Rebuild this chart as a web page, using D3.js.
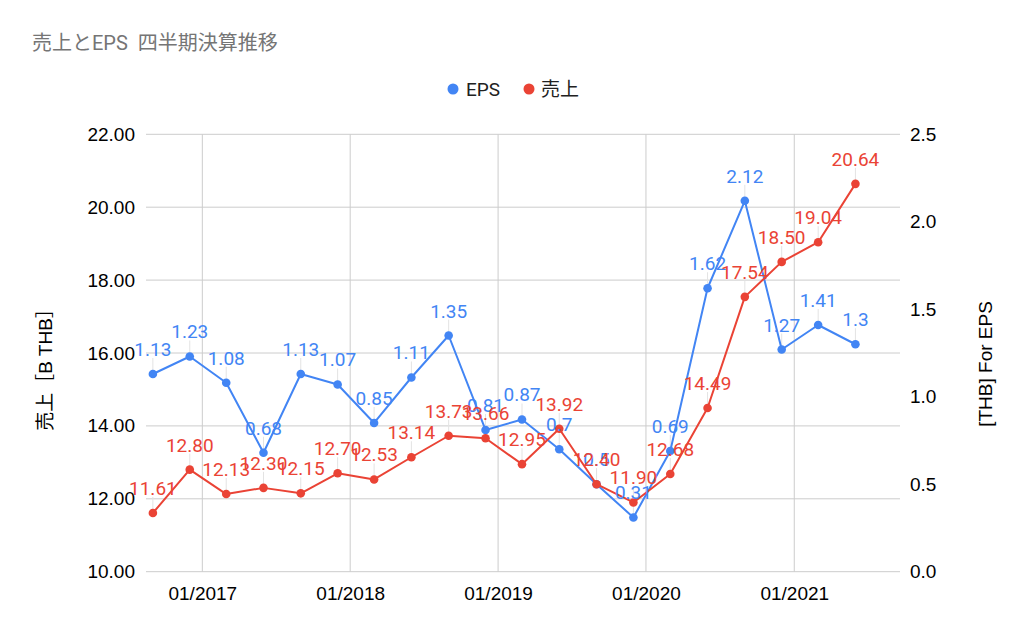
<!DOCTYPE html>
<html>
<head>
<meta charset="utf-8">
<script src="https://cdn.jsdelivr.net/npm/d3@7"></script>
<style>
  html, body { margin: 0; padding: 0; background: #fff; }
  svg { display: block; }
</style>
</head>
<body>
<svg id="chart" width="1029" height="637"></svg>
<script>
// ---- data ----
const title = "売上とEPS  四半期決算推移";
const quarters = ["2016-09","2016-12","2017-03","2017-06","2017-09","2017-12","2018-03","2018-06","2018-09","2018-12",
                  "2019-03","2019-06","2019-09","2019-12","2020-03","2020-06","2020-09","2020-12","2021-03","2021-06"];
const eps   = [1.13,1.23,1.08,0.68,1.13,1.07,0.85,1.11,1.35,0.81,0.87,0.7,0.5,0.31,0.69,1.62,2.12,1.27,1.41,1.3];
const sales = [11.61,12.80,12.13,12.30,12.15,12.70,12.53,13.14,13.73,13.66,12.95,13.92,12.40,11.90,12.68,14.49,17.54,18.50,19.04,20.64];
const seriesNames = ["EPS", "売上"];
const leftTicks  = [10,12,14,16,18,20,22];
const rightTicks = [0,0.5,1.0,1.5,2.0,2.5];
const xTickYears = ["2017","2018","2019","2020","2021"];
const leftTitle  = "売上［B THB］";
const rightTitle = "[THB] For EPS";

// ---- layout ----
const colors = { eps: "#4285F4", sales: "#EA4335" };
const plot = { left: 146, right: 900, top: 134.3, bottom: 571.7 };
const latin = "Roboto, 'Noto Sans CJK JP', sans-serif";
const arial = "'Liberation Sans', Arial, sans-serif";

const parseQ = d3.timeParse("%Y-%m");
const parseY = d3.timeParse("%Y");
const dates = quarters.map(parseQ);

const x = d3.scaleTime()
  .domain([new Date(2016, 7, 15), new Date(2021, 8, 19)])
  .range([plot.left, plot.right]);
const yL = d3.scaleLinear().domain([10, 22]).range([plot.bottom, plot.top]);
const yR = d3.scaleLinear().domain([0, 2.5]).range([plot.bottom, plot.top]);

const svg = d3.select("#chart");

// title
svg.append("text")
  .attr("x", 32).attr("y", 50)
  .attr("fill", "#757575")
  .style("font-family", latin)
  .style("font-size", "20px")
  .style("white-space", "pre")
  .text(title);

// gridlines: horizontal
const gridColor = "#cccccc";
svg.append("g").selectAll("line").data(leftTicks).join("line")
  .attr("x1", plot.left).attr("x2", plot.right)
  .attr("y1", d => yL(d)).attr("y2", d => yL(d))
  .attr("stroke", gridColor).attr("stroke-width", 1);

// vertical gridlines
const xTickDates = xTickYears.map(parseY);
svg.append("g").selectAll("line").data(xTickDates).join("line")
  .attr("x1", d => x(d)).attr("x2", d => x(d))
  .attr("y1", plot.top).attr("y2", plot.bottom)
  .attr("stroke", gridColor).attr("stroke-width", 1);

// left axis labels
const leftAxis = d3.axisLeft(yL).tickValues(leftTicks).tickFormat(d3.format(".2f")).tickSize(0).tickPadding(0);
const gL = svg.append("g").attr("transform", `translate(${plot.left - 11},0)`).call(leftAxis);
gL.select(".domain").remove();
gL.selectAll("text").attr("fill", "#000").style("font-family", arial).style("font-size", "19px");

// right axis labels
const rightAxis = d3.axisRight(yR).tickValues(rightTicks).tickFormat(d3.format(".1f")).tickSize(0).tickPadding(0);
const gR = svg.append("g").attr("transform", `translate(${plot.right + 10},0)`).call(rightAxis);
gR.select(".domain").remove();
gR.selectAll("text").attr("fill", "#000").style("font-family", arial).style("font-size", "19px");

// bottom axis labels
const bottomAxis = d3.axisBottom(x).tickValues(xTickDates).tickFormat(d3.timeFormat("%m/%Y")).tickSize(0).tickPadding(0);
const gB = svg.append("g").attr("transform", `translate(0,${plot.bottom + 15})`).call(bottomAxis);
gB.select(".domain").remove();
gB.selectAll("text").attr("fill", "#000").style("font-family", arial).style("font-size", "19px");

// axis titles
svg.append("text")
  .attr("transform", `translate(52,365) rotate(-90)`)
  .attr("text-anchor", "middle")
  .attr("fill", "#000")
  .style("font-family", arial + ", 'Noto Sans CJK JP'")
  .style("font-size", "19px")
  .text(leftTitle);
svg.append("text")
  .attr("transform", `translate(992,364) rotate(-90)`)
  .attr("text-anchor", "middle")
  .attr("fill", "#000")
  .style("font-family", arial)
  .style("font-size", "19px")
  .text(rightTitle);

// legend
const legend = [
  { name: seriesNames[0], color: colors.eps, cx: 453, tx: 466 },
  { name: seriesNames[1], color: colors.sales, cx: 529, tx: 541 }
];
const lg = svg.append("g");
lg.selectAll("circle").data(legend).join("circle")
  .attr("cx", d => d.cx).attr("cy", 89).attr("r", 5.5).attr("fill", d => d.color);
lg.selectAll("text").data(legend).join("text")
  .attr("x", d => d.tx).attr("y", 96)
  .attr("fill", "#212121")
  .style("font-family", latin)
  .style("font-size", "19px")
  .text(d => d.name);

// series
const epsPts = dates.map((d, i) => ({ d, v: eps[i], label: String(eps[i]) }));
const salesPts = dates.map((d, i) => ({ d, v: sales[i], label: sales[i].toFixed(2) }));
const series = [
  { pts: epsPts, y: yR, color: colors.eps },
  { pts: salesPts, y: yL, color: colors.sales }
];

// leader lines
series.forEach(s => {
  svg.append("g").selectAll("line").data(s.pts).join("line")
    .attr("x1", p => x(p.d)).attr("x2", p => x(p.d))
    .attr("y1", p => s.y(p.v) - 16).attr("y2", p => s.y(p.v))
    .attr("stroke", "#e3e3e3").attr("stroke-width", 1);
});

series.forEach(s => {
  const line = d3.line().x(p => x(p.d)).y(p => s.y(p.v));
  svg.append("path").datum(s.pts)
    .attr("d", line).attr("fill", "none")
    .attr("stroke", s.color).attr("stroke-width", 2).attr("stroke-linejoin", "round");
  svg.append("g").selectAll("circle").data(s.pts).join("circle")
    .attr("cx", p => x(p.d)).attr("cy", p => s.y(p.v)).attr("r", 4.3)
    .attr("fill", s.color);
});

// labels
series.forEach(s => {
  svg.append("g").selectAll("text").data(s.pts).join("text")
    .attr("x", p => x(p.d)).attr("y", p => s.y(p.v) - 18)
    .attr("text-anchor", "middle")
    .attr("fill", s.color)
    .style("font-family", latin)
    .style("font-size", "19px")
    .text(p => p.label);
});
</script>
</body>
</html>
